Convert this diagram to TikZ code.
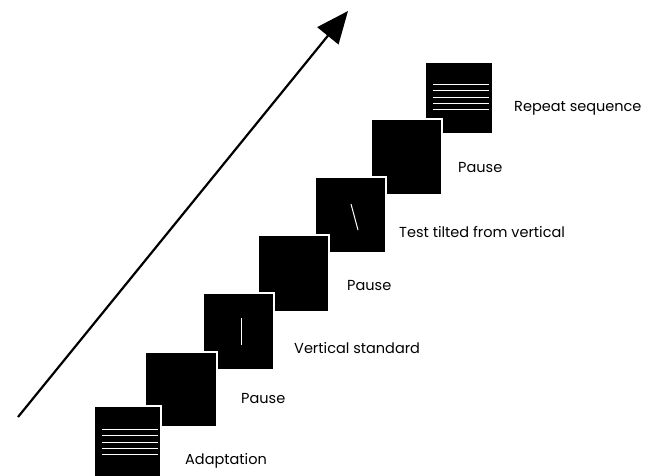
\documentclass[tikz,border=0pt]{standalone}
\usepackage{fontspec}
\setmainfont{Poppins}
\usetikzlibrary{arrows.meta}
\begin{document}
\begin{tikzpicture}[x=1pt,y=-1pt,
  card/.style={fill=black,draw=white,line width=1.6pt,inner sep=0pt,outer sep=0pt,anchor=north west},
  lab/.style={inner sep=0pt,anchor=west,font=\fontsize{14.5}{17}\selectfont},
  bar/.style={white,line width=1pt},
  pointer/.style={line width=2.2pt,-{Triangle[length=32pt,width=27pt]}}]
\clip (0,0) rectangle (663,475);
\fill[white] (0,0) rectangle (663,475);
% arrow
\coordinate (a0) at (18,417);
\coordinate (a1) at (348,11);
\draw[pointer] (a0) -- (a1);
% squares, top one first so lower ones lie in front
\node[card,minimum width=68pt,minimum height=72pt] (s7) at (425,62) {};
\node[card,minimum width=71pt,minimum height=76pt] (s6) at (371,119) {};
\node[card,minimum width=71pt,minimum height=76pt] (s5) at (315,177) {};
\node[card,minimum width=71pt,minimum height=77pt] (s4) at (258,235) {};
\node[card,minimum width=71pt,minimum height=77pt] (s3) at (203,293) {};
\node[card,minimum width=72pt,minimum height=75pt] (s2) at (145,352) {};
\node[card,minimum width=67pt,minimum height=75pt] (s1) at (94,406) {};
% gratings
\foreach \y in {429,435.5,442,448,454} \draw[bar] (102,\y) -- (158,\y);
\foreach \y in {84,90.5,97,103,109} \draw[bar] (433,\y) -- (489,\y);
% vertical standard
\draw[bar] (241,318) -- (241,345);
% tilted test
\draw[bar] (351,204) -- (358,230);
% labels
\node[lab] (l1) at (185,461) {Adaptation};
\node[lab] (l2) at (241,398) {Pause};
\node[lab] (l3) at (294,348) {Vertical standard};
\node[lab] (l4) at (347,286) {Pause};
\node[lab] (l5) at (399,232) {Test tilted from vertical};
\node[lab] (l6) at (458,168) {Pause};
\node[lab] (l7) at (514,108) {Repeat sequence};
\end{tikzpicture}
\end{document}
